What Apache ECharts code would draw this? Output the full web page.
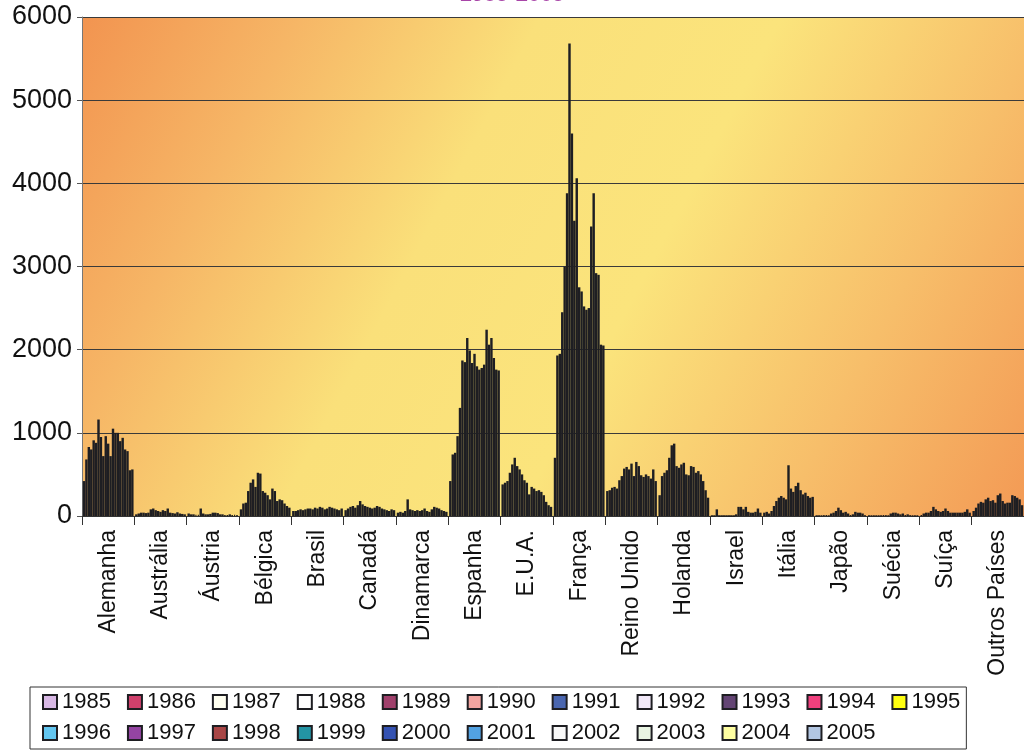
<!DOCTYPE html>
<html>
<head>
<meta charset="utf-8">
<script src="https://cdn.jsdelivr.net/npm/echarts@6/dist/echarts.min.js"></script>
<style>
  html, body { margin: 0; padding: 0; background: #ffffff; }
  #chart { width: 1024px; height: 752px; }
</style>
</head>
<body>
<div id="chart"></div>
<script>
// Countries on the category axis
const categories = ['Alemanha', 'Austrália', 'Áustria', 'Bélgica', 'Brasil', 'Canadá',
  'Dinamarca', 'Espanha', 'E.U.A.', 'França', 'Reino Unido', 'Holanda', 'Israel',
  'Itália', 'Japão', 'Suécia', 'Suíça', 'Outros Países'];

// One series per year
const years = ['1985', '1986', '1987', '1988', '1989', '1990', '1991', '1992', '1993', '1994',
  '1995', '1996', '1997', '1998', '1999', '2000', '2001', '2002', '2003', '2004', '2005'];

// Values per country, 1985 → 2005
const alemanha   = [420, 680, 830, 800, 910, 880, 1160, 950, 720, 960, 870, 720, 1050, 1000, 1000, 900, 940, 800, 780, 550, 560];
const australia  = [20, 30, 40, 40, 35, 40, 80, 90, 70, 60, 50, 70, 60, 90, 40, 35, 30, 45, 30, 25, 20];
const austria    = [30, 20, 20, 15, 15, 90, 30, 20, 20, 25, 40, 40, 35, 20, 20, 10, 10, 20, 10, 15, 10];
const belgica    = [80, 150, 160, 300, 400, 440, 350, 520, 510, 300, 280, 250, 200, 330, 300, 180, 200, 190, 150, 120, 100];
const brasil     = [60, 60, 70, 80, 70, 80, 90, 90, 80, 100, 90, 110, 100, 80, 90, 110, 100, 90, 80, 70, 90];
const canada     = [70, 90, 110, 120, 100, 130, 180, 140, 120, 110, 100, 90, 100, 120, 110, 90, 80, 70, 60, 80, 70];
const dinamarca  = [40, 50, 40, 60, 200, 80, 70, 60, 70, 60, 70, 90, 60, 50, 80, 110, 100, 90, 70, 60, 50];
const espanha    = [420, 740, 760, 960, 1300, 1870, 1850, 2140, 1990, 1840, 1950, 1800, 1760, 1780, 1820, 2240, 2060, 2140, 1900, 1760, 1750];
const eua        = [380, 400, 420, 520, 620, 700, 600, 560, 500, 430, 400, 260, 350, 330, 300, 310, 290, 250, 170, 130, 110];
const franca     = [700, 1930, 1950, 2450, 3000, 3880, 5680, 4600, 3550, 4060, 2750, 2700, 2520, 2480, 2500, 3480, 3880, 2920, 2900, 2060, 2050];
const reinoUnido = [300, 310, 340, 350, 330, 430, 480, 570, 590, 560, 630, 480, 650, 600, 490, 470, 500, 480, 450, 560, 420];
const holanda    = [250, 480, 520, 550, 700, 850, 870, 600, 580, 620, 640, 500, 490, 600, 590, 520, 540, 500, 420, 310, 220];
const israel     = [0, 0, 80, 0, 0, 0, 0, 0, 0, 0, 20, 110, 110, 80, 110, 50, 40, 40, 50, 90, 40];
const italia     = [40, 50, 30, 60, 120, 180, 220, 240, 220, 200, 610, 330, 290, 360, 400, 310, 260, 280, 240, 220, 230];
const japao      = [0, 5, 5, 10, 10, 5, 30, 40, 60, 100, 70, 40, 50, 30, 10, 20, 50, 40, 40, 30, 10];
const suecia     = [5, 5, 5, 5, 5, 5, 10, 10, 5, 30, 40, 40, 30, 20, 30, 10, 20, 10, 5, 5, 5];
const suica      = [10, 30, 40, 40, 60, 110, 80, 60, 50, 60, 90, 60, 40, 40, 40, 40, 40, 40, 50, 80, 40];
const outros     = [60, 100, 150, 170, 160, 200, 220, 180, 190, 160, 250, 270, 180, 150, 160, 160, 250, 240, 220, 200, 130];

const countryValues = [alemanha, australia, austria, belgica, brasil, canada, dinamarca,
  espanha, eua, franca, reinoUnido, holanda, israel, italia, japao, suecia, suica, outros];

// Fill colour of each year
const yearColors = ['#D9B9E6', '#D0406C', '#FFFFF0', '#FFFFFF', '#A0406C', '#F2A4A0', '#4A66B0',
  '#F1E8F8', '#634474', '#F0407E', '#FFFF10', '#63C6F0', '#9444A2', '#A84646', '#2394A4',
  '#3452B2', '#52A2E2', '#F8F8F8', '#E8F4E2', '#FFFFA2', '#B2C6E2'];

const yTicks = { min: 0, max: 6000, interval: 1000 };

const series = years.map((y, i) => ({
  name: y,
  type: 'bar',
  barGap: '0%',
  barCategoryGap: '3%',
  data: countryValues.map(c => c[i]),
  itemStyle: { color: yearColors[i], borderColor: '#1e1e22', borderWidth: 1.3 },
  emphasis: { disabled: true }
}));

// Shared look of the two legend rows
const legendBase = {
  left: 30,
  itemWidth: 14,
  itemHeight: 14,
  itemGap: 16,
  icon: 'rect',
  selectedMode: false,
  orient: 'horizontal',
  textStyle: { fontSize: 22, color: '#111' }
};

const chart = echarts.init(document.getElementById('chart'), null, { renderer: 'canvas' });
chart.setOption({
  animation: false,
  backgroundColor: '#ffffff',
  textStyle: { fontFamily: '"Liberation Sans", Arial, sans-serif' },
  title: {
    text: '1985-2005',
    left: 'center',
    top: -21,
    textStyle: { color: '#A845A8', fontSize: 22, fontWeight: 'bold', fontFamily: '"Liberation Sans", Arial, sans-serif' }
  },
  grid: {
    left: 82, right: 0, top: 17, bottom: 236,
    show: true,
    borderWidth: 0,
    backgroundColor: new echarts.graphic.LinearGradient(0, 0, 1, 1, [
      { offset: 0, color: '#F29450' },
      { offset: 0.18, color: '#F6B666' },
      { offset: 0.38, color: '#FAE07A' },
      { offset: 0.58, color: '#FBE47C' },
      { offset: 0.8, color: '#F7BE6A' },
      { offset: 1, color: '#F39A55' }
    ])
  },
  legend: [
    Object.assign({}, legendBase, {
      data: years.slice(0, 11),
      top: 687,
      width: 930,
      padding: [4, 6, 36, 12],
      borderColor: '#333',
      borderWidth: 1,
      backgroundColor: '#ffffff'
    }),
    Object.assign({}, legendBase, {
      data: years.slice(11),
      top: 722,
      z: 5,
      padding: [0, 0, 0, 12]
    })
  ],
  xAxis: {
    type: 'category',
    data: categories,
    axisLine: { lineStyle: { color: '#333', width: 1 } },
    axisTick: { show: true, length: 9, lineStyle: { color: '#333' } },
    axisLabel: { rotate: 90, fontSize: 23, color: '#111', margin: 14, interval: 0 }
  },
  yAxis: {
    type: 'value',
    min: yTicks.min,
    max: yTicks.max,
    interval: yTicks.interval,
    axisLine: { show: true, lineStyle: { color: '#777', width: 1 } },
    axisTick: { show: true, length: 5, lineStyle: { color: '#555' } },
    axisLabel: { fontSize: 27, color: '#111', margin: 10, formatter: v => String(v) },
    splitLine: { lineStyle: { color: '#3a3a3a', width: 1 } }
  },
  series: series
});
</script>
</body>
</html>
